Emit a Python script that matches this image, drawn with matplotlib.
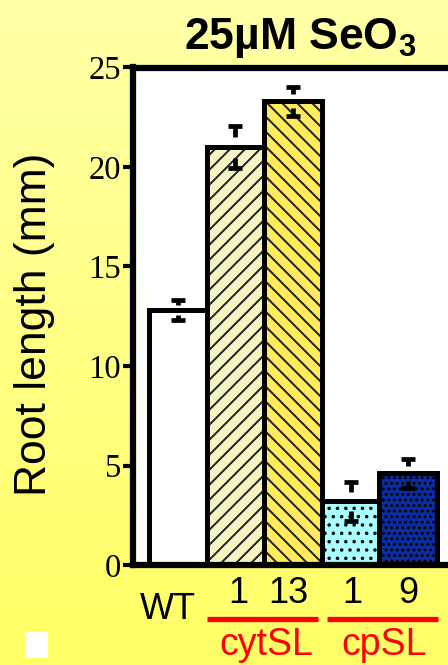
import numpy as np
import matplotlib.pyplot as plt
from matplotlib.colors import LinearSegmentedColormap
from matplotlib.patches import Rectangle

plt.rcParams['hatch.linewidth'] = 1.3
plt.rcParams['mathtext.fontset'] = 'custom'
plt.rcParams['mathtext.bf'] = 'Liberation Sans:bold'

# Mean root length (mm) and error for each line
lines = ['WT', '1', '13', '1', '9']
lengths = [12.8, 21.0, 23.3, 3.2, 4.6]
errors = [0.5, 1.05, 0.72, 0.98, 0.72]
fills = ['white', '#F7F4C4', '#FFEB5C', '#A8FFFF', '#0B2D9E']
stripes = [0, 1, -1, 0, 0]          # +1 rising, -1 falling diagonal stripes
dots = ['', '', '', '..', '...']
groups = ['cytSL', 'cpSL']
group_span = [(0.51, 2.44), (2.59, 4.52)]
group_center = [1.53, 3.58]
yticks = [0, 5, 10, 15, 20, 25]

fig = plt.figure(figsize=(4.48, 6.65), dpi=100)

# yellow background fading from pale at the top to deeper at the bottom
bg = fig.add_axes([0, 0, 1, 1], zorder=-10)
grad = np.linspace(0, 1, 256).reshape(-1, 1)
cmap = LinearSegmentedColormap.from_list('bg', ['#FFFFA6', '#FFFF66'])
bg.imshow(grad, aspect='auto', cmap=cmap, extent=[0, 1, 0, 1])
bg.axis('off')
bg.add_patch(Rectangle((25 / 448, 1 - 658 / 665), 23 / 448, 26 / 665,
                       facecolor='white', edgecolor='none'))

ax = fig.add_axes([133 / 448, 100 / 665, 327 / 448, 497.5 / 665])
ax.set_facecolor('white')
ax.set_xlim(-0.776, 4.9)
ax.set_ylim(0, 25)
x = np.arange(len(lines))

# fill + dot texture (hatch takes the edge colour), then the outlines on top
fill_bars = ax.bar(x, lengths, width=1.0, color=fills, edgecolor='black',
                   linewidth=0, hatch=dots, zorder=1)
ax.bar(x, lengths, width=1.0, facecolor='none', edgecolor='black',
       linewidth=3.6, zorder=3)

# diagonal stripes, ~15 px apart, clipped to each bar
p0 = ax.transData.transform((0, 0))
p1 = ax.transData.transform((1, 1))
px_x, px_y = p1 - p0
slope = px_x / px_y          # data-y per data-x for a 45 degree line
step = 15 / px_y
for bar, s in zip(fill_bars, stripes):
    if s == 0:
        continue
    x0 = bar.get_x()
    x1 = x0 + bar.get_width()
    top = bar.get_height()
    rise = slope * (x1 - x0)
    for c in np.arange(-rise - step, top + rise + step, step):
        if s > 0:
            ys = [c, c + rise]
        else:
            ys = [c + rise, c]
        ln, = ax.plot([x0, x1], ys, color='#202020', linewidth=1.4,
                      zorder=2)
        ln.set_clip_path(bar)

# error bars: thick caps with short stems pointing toward the mean
lengths_a = np.array(lengths)
errors_a = np.array(errors)
ax.errorbar(x, lengths_a, yerr=errors_a, fmt='none', ecolor='black',
            elinewidth=0, capsize=5, capthick=3.4, zorder=4)
ax.vlines(x, lengths_a + errors_a, lengths_a + errors_a * 0.5,
          color='black', linewidth=3.4, zorder=4)
ax.vlines(x, lengths_a - errors_a, lengths_a - errors_a * 0.5,
          color='black', linewidth=3.4, zorder=4)

ax.set_xticks([])
ax.set_yticks(yticks)
ax.set_yticklabels([str(t) for t in yticks], family='Liberation Serif',
                   fontsize=23.5)
ax.tick_params(axis='y', direction='out', length=7.5, width=3, pad=1)
for s in ax.spines.values():
    s.set_linewidth(4.5)
    s.set_zorder(5)

fig.text(0.076, 0.512, 'Root length (mm)', rotation=90, ha='center',
         va='center', family='Liberation Sans', fontsize=32)
fig.text(300 / 448, 1 - 38 / 665, r'25µM SeO$\mathbf{_3}$', ha='center',
         va='center', family='Liberation Sans', fontweight='bold',
         fontsize=32)

# category labels under the bars
tr = ax.get_xaxis_transform()
ax.text(-0.17, -0.09, lines[0], transform=tr, ha='center', va='center',
        family='Liberation Sans', fontsize=26)
for xi, lab in zip([1.06, 1.92, 3.03, 4.0], lines[1:]):
    ax.text(xi, -0.058, lab, transform=tr, ha='center', va='center',
            family='Liberation Sans', fontsize=26)
for (a, b), c, g in zip(group_span, group_center, groups):
    ax.plot([a, b], [-0.1085, -0.1085], transform=tr, color='#FF0000',
            linewidth=3.8, clip_on=False, solid_capstyle='butt')
    ax.text(c, -0.16, g, transform=tr, ha='center', va='center',
            color='#FF0000', family='Liberation Sans', fontsize=27)

fig.savefig('out.png', dpi=100)
